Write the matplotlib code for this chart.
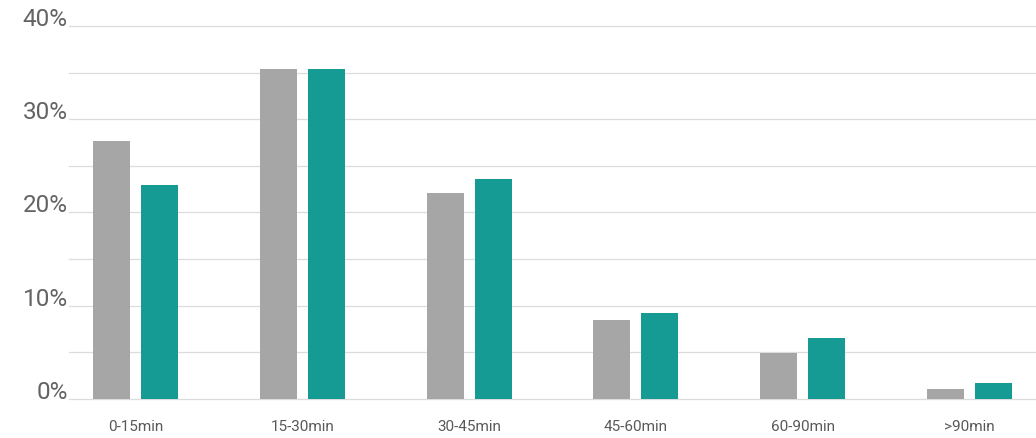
import matplotlib
matplotlib.use("Agg")
import matplotlib.pyplot as plt
import numpy as np

categories = ["0-15min", "15-30min", "30-45min", "45-60min", "60-90min", ">90min"]
series_grey = [27.7, 35.4, 22.1, 8.5, 4.9, 1.1]
series_teal = [23.0, 35.4, 23.6, 9.2, 6.5, 1.7]
ytick_values = [0, 10, 20, 30, 40]
ytick_labels = ["0%", "10%", "20%", "30%", "40%"]

plt.rcParams['font.family'] = ['Roboto', 'DejaVu Sans']

W, H = 1036, 438
fig = plt.figure(figsize=(W / 100, H / 100), dpi=100)
ax = fig.add_axes([69 / W, (H - 399) / H, (W - 69) / W, (399 - 26) / H])

x = np.arange(len(categories))
bw = 0.222
off = 0.144
ax.bar(x - off, series_grey, width=bw, color="#a6a6a6", zorder=3)
ax.bar(x + off, series_teal, width=bw, color="#169b94", zorder=3)

ax.set_xlim(-0.4, 5.4)
ax.set_ylim(0, 40)
for v in np.arange(0, 41, 5):
    ax.axhline(v, color="#dcdcdc", linewidth=0.9, zorder=1, clip_on=False)

ax.set_yticks(ytick_values)
ax.set_yticklabels(ytick_labels, fontsize=17.5, color="#636363")
for lab in ax.get_yticklabels():
    lab.set_verticalalignment("baseline")
ax.set_xticks(x)
ax.set_xticklabels(categories, fontsize=11, color="#595959")
ax.tick_params(axis="both", length=0)
ax.tick_params(axis="y", pad=1)
ax.tick_params(axis="x", pad=15)
for s in ax.spines.values():
    s.set_visible(False)

fig.savefig("out.png", dpi=100)
